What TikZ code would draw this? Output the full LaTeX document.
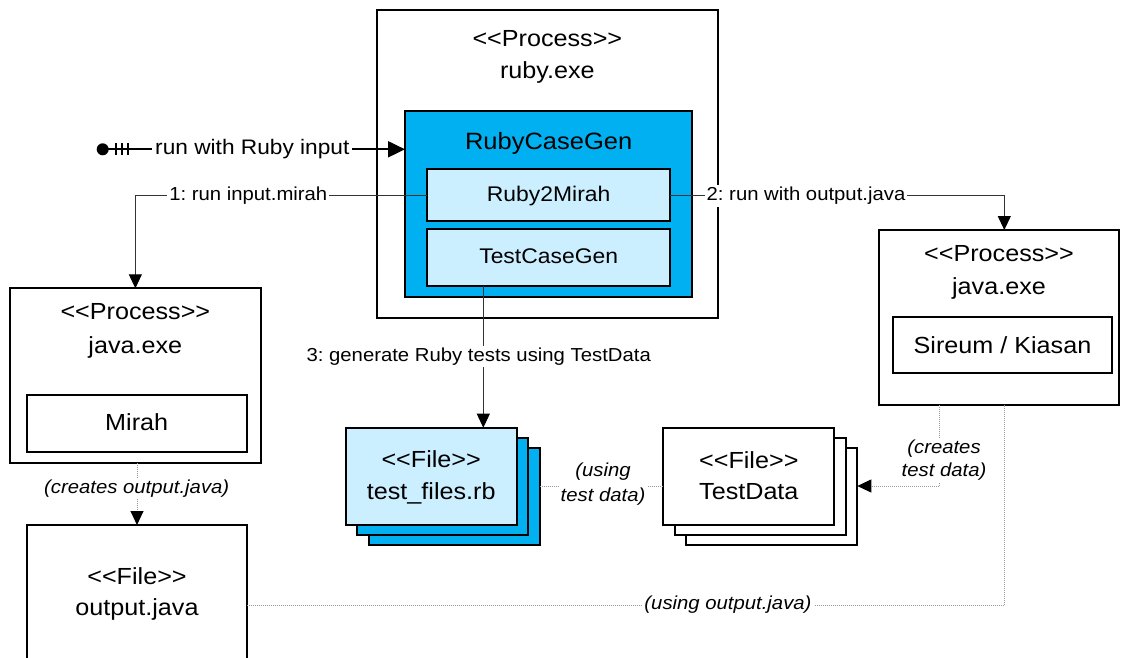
\documentclass[tikz,border=0pt]{standalone}
\usepackage{fontspec}
\setmainfont{Liberation Sans}[FakeStretch=1.08]
\usetikzlibrary{arrows.meta,calc}
\definecolor{blu}{HTML}{00B0F0}
\definecolor{lblu}{HTML}{CCEFFF}
\definecolor{dotc}{HTML}{9A9A9A}
\frenchspacing
\begin{document}
\begin{tikzpicture}[x=1pt,y=-1pt,
 box/.style={draw=black,line width=2pt,rectangle,inner sep=0pt,outer sep=0pt},
 big/.style={font=\fontsize{23.3}{28}\selectfont,anchor=base,inner sep=0pt},
 mid/.style={font=\fontsize{21.2}{26}\selectfont,anchor=base,inner sep=0pt},
 lab/.style={font=\fontsize{18.8}{23}\selectfont,fill=white,inner sep=2pt},
 ilab/.style={fill=white,inner sep=2pt,font=\fontsize{18.8}{23.4}\selectfont\itshape,align=center},
 conn/.style={draw=black!80,line width=1pt},
 dotl/.style={draw=dotc,line width=1pt,dash pattern=on 1pt off 1pt},
 tip/.style={-{Triangle[length=14pt,width=13pt,color=black]}}
]
\useasboundingbox (0,0) rectangle (1122,658);
\fill[white] (0,0) rectangle (1122,658);

% ruby.exe process
\node[box,fill=white,minimum width=341.3pt,minimum height=308.3pt] (ruby) at (547.35,164.15) {};
\node[big] (rubyt1) at (547.35,46.7) {<{}<Process>{}>};
\node[big] (rubyt2) at (547.35,79) {ruby.exe};
\node[box,fill=blu,minimum width=287.3pt,minimum height=186pt] (rcg) at (548.65,203.7) {};
\node[big,font=\fontsize{23.6}{28}\selectfont] (rcgt) at (548.65,149.3) {RubyCaseGen};
\node[box,fill=lblu,minimum width=242.7pt,minimum height=51.7pt] (r2m) at (548.65,195.15) {};
\node[mid] (r2mt) at (548.65,201.7) {Ruby2Mirah};
\node[box,fill=lblu,minimum width=242.7pt,minimum height=56.4pt] (tcg) at (548.65,257.5) {};
\node[mid] (tcgt) at (548.65,263.3) {TestCaseGen};

% left java.exe
\node[box,fill=white,minimum width=250.7pt,minimum height=174.4pt] (jl) at (135.35,375.5) {};
\node[big] (jlt1) at (135.35,319.3) {<{}<Process>{}>};
\node[big] (jlt2) at (135.35,353.3) {java.exe};
\node[box,fill=white,minimum width=220pt,minimum height=56.7pt] (mir) at (136.7,423.35) {};
\node[big] (mirt) at (136.7,430.7) {Mirah};

% right java.exe
\node[box,fill=white,minimum width=240pt,minimum height=174.5pt] (jr) at (999,317.25) {};
\node[big] (jrt1) at (999,261) {<{}<Process>{}>};
\node[big] (jrt2) at (999,294) {java.exe};
\node[box,fill=white,minimum width=219.6pt,minimum height=56pt] (sk) at (1002.5,345.3) {};
\node[big] (skt) at (1002.5,353.3) {Sireum / Kiasan};

% test_files.rb stack
\node[box,fill=blu,minimum width=171pt,minimum height=97.3pt] (tf3) at (454.2,496.35) {};
\node[box,fill=blu,minimum width=171pt,minimum height=97.3pt] (tf2) at (442.7,486.35) {};
\node[box,fill=lblu,minimum width=171pt,minimum height=97.3pt] (tf1) at (431.2,476.35) {};
\node[big] (tft1) at (431.2,467.3) {<{}<File>{}>};
\node[big] (tft2) at (431.2,499.3) {test\_files.rb};

% TestData stack
\node[box,fill=white,minimum width=171pt,minimum height=97.3pt] (td3) at (771.8,496.35) {};
\node[box,fill=white,minimum width=171pt,minimum height=97.3pt] (td2) at (760.3,486.35) {};
\node[box,fill=white,minimum width=171pt,minimum height=97.3pt] (td1) at (748.8,476.35) {};
\node[big] (tdt1) at (748.8,468.3) {<{}<File>{}>};
\node[big] (tdt2) at (748.8,499.3) {TestData};

% output.java
\node[box,fill=white,minimum width=219.4pt,minimum height=165pt] (oj) at (137,607.5) {};
\node[big] (ojt1) at (137,584.3) {<{}<File>{}>};
\node[big] (ojt2) at (137,615.7) {output.java};

% start connector
\coordinate (st) at (102.7,149.3);
\fill (st) circle (6);
\foreach \dx in {13.3,19,25} \draw[line width=1.8pt] ($(st)+(\dx,-5.8)$) -- ($(st)+(\dx,5.5)$);
\draw[line width=2pt,-{Triangle[length=17pt,width=16pt]}] (st) -- (st -| rcg.west);
\node[lab,font=\fontsize{21}{25}\selectfont,inner sep=3pt] (l0) at (252.3,149.3) {run with Ruby input};

% solid connectors
\draw[conn,tip] (r2m.west) -| (jl.north);
\node[lab] (l1) at (248.3,196) {1: run input.mirah};
\draw[conn,tip] (r2m.east) -| ([xshift=5.3pt]jr.north);
\node[lab] (l2) at (806,196) {2: run with output.java};
\coordinate (c3) at (483.3,300);
\draw[conn,tip] (tcg.south -| c3) -- (tf1.north -| c3);
\node[lab] (l3) at (478.7,356.7) {3: generate Ruby tests using TestData};

% dotted connectors
\draw[dotl,tip] (jl.south -| oj.north) -- (oj.north);
\node[ilab] (l4) at (136.7,488.3) {(creates output.java)};
\coordinate (k1) at (939.3,486);
\draw[dotl,tip] (jr.south -| k1) -- (k1) -- (k1 -| td3.east);
\node[ilab] (l5) at (944,460) {(creates\\test data)};
\draw[dotl] (tf3.east |- k1) -- (td1.west |- k1);
\node[ilab,font=\fontsize{18.8}{25}\selectfont\itshape] (l6) at (603,484.5) {(using\\test data)};
\coordinate (k2) at (1004.3,605);
\draw[dotl] (oj.east |- k2) -- (k2) -- (jr.south -| k2);
\node[ilab] (l7) at (728,605) {(using output.java)};
\end{tikzpicture}
\end{document}
